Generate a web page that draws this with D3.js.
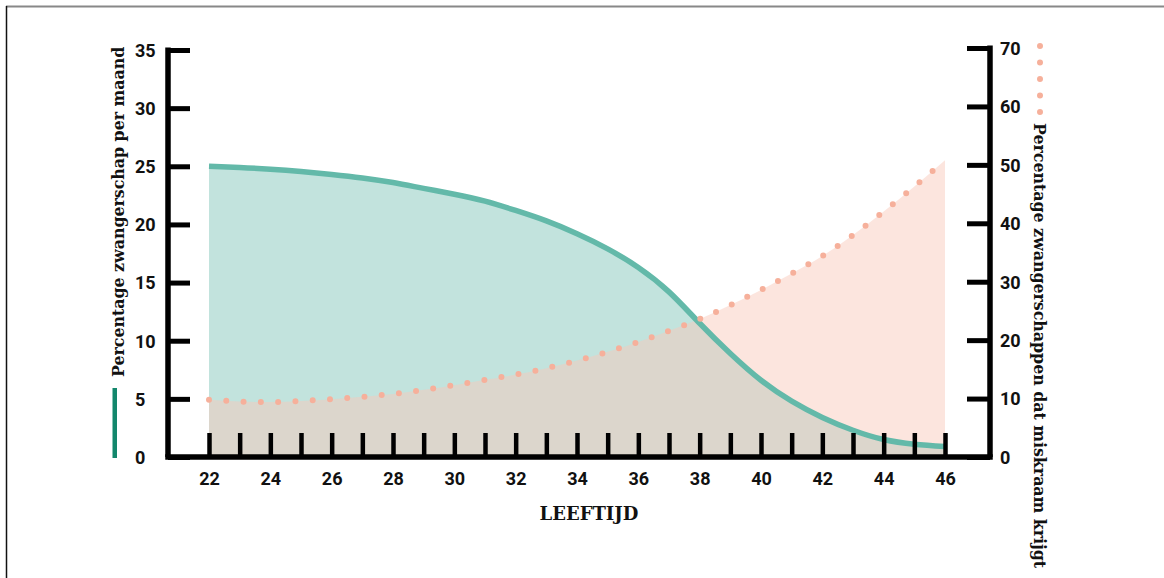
<!DOCTYPE html>
<html>
<head>
<meta charset="utf-8">
<title>Leeftijd en zwangerschap</title>
<style>
  body { margin: 0; background: #fff; }
  svg { display: block; }
  .tick-label { font-family: Roboto, "Liberation Sans", sans-serif; font-weight: 700; font-size: 18px; fill: #111; }
  .title { font-family: "DejaVu Serif", "Liberation Serif", serif; font-weight: 700; font-size: 15.8px; fill: #111; }
</style>
</head>
<body>
<svg id="chart" width="1164" height="578"></svg>
<script src="https://d3js.org/d3.v7.min.js"></script>
<script>
// ages on the x axis
var ages = [22, 23, 24, 25, 26, 27, 28, 29, 30, 31, 32, 33, 34, 35, 36, 37, 38, 39, 40, 41, 42, 43, 44, 45, 46];
// chance of pregnancy per month (left axis, %)
var pregnancy = [25.0, 24.9, 24.75, 24.55, 24.3, 24.0, 23.6, 23.1, 22.6, 22.0, 21.2, 20.3, 19.2, 17.9, 16.3, 14.2, 11.5, 8.9, 6.6, 4.8, 3.4, 2.3, 1.5, 1.1, 0.9];
// share of pregnancies ending in miscarriage (right axis, %)
var miscarriage = [9.8, 9.5, 9.4, 9.6, 9.9, 10.3, 10.8, 11.5, 12.3, 13.2, 14.1, 15.2, 16.5, 18.0, 19.7, 21.6, 23.6, 26.0, 28.6, 31.4, 34.4, 38.0, 42.0, 46.3, 50.8];
var leftTicks = [0, 5, 10, 15, 20, 25, 30, 35];
var rightTicks = [0, 10, 20, 30, 40, 50, 60, 70];
var xLabels = [22, 24, 26, 28, 30, 32, 34, 36, 38, 40, 42, 44, 46];

var svg = d3.select('#chart');

// frame lines of the original graphic
svg.append('line').attr('x1', 6).attr('x2', 1164).attr('y1', 6.5).attr('y2', 6.5)
    .attr('stroke', '#888').attr('stroke-width', 2);
svg.append('line').attr('x1', 6.5).attr('x2', 6.5).attr('y1', 6).attr('y2', 578)
    .attr('stroke', '#111').attr('stroke-width', 1.5);

var leftX = 168, rightX = 990, baseY = 457;

var x = d3.scaleLinear().domain([22, 46]).range([209, 945]);
var yL = d3.scaleLinear().domain([0, 35]).range([baseY, 50]);
var yR = d3.scaleLinear().domain([0, 70]).range([baseY, 48]);

var green = ages.map(function (a, i) { return [a, pregnancy[i]]; });
var pink = ages.map(function (a, i) { return [a, miscarriage[i]]; });

// areas
svg.append('path').datum(green)
    .attr('fill', '#c2e3dd')
    .attr('d', d3.area().curve(d3.curveNatural)
        .x(function (d) { return x(d[0]); })
        .y0(yL(0))
        .y1(function (d) { return yL(d[1]); }));

svg.append('path').datum(pink)
    .attr('fill', 'rgb(249,200,186)')
    .attr('fill-opacity', 0.475)
    .attr('d', d3.area().curve(d3.curveNatural)
        .x(function (d) { return x(d[0]); })
        .y0(yR(0))
        .y1(function (d) { return yR(d[1]); }));

// lines
svg.append('path').datum(green)
    .attr('fill', 'none')
    .attr('stroke', '#63b9a9')
    .attr('stroke-width', 5.5)
    .attr('d', d3.line().curve(d3.curveNatural)
        .x(function (d) { return x(d[0]); })
        .y(function (d) { return yL(d[1]); }));

svg.append('path').datum(pink)
    .attr('fill', 'none')
    .attr('stroke', '#f6b09b')
    .attr('stroke-width', 6)
    .attr('stroke-linecap', 'round')
    .attr('stroke-dasharray', '0,17.3')
    .attr('d', d3.line().curve(d3.curveNatural)
        .x(function (d) { return x(d[0]); })
        .y(function (d) { return yR(d[1]); }));

// left axis
var gL = svg.append('g').attr('transform', 'translate(' + leftX + ',0)')
    .call(d3.axisRight(yL).tickValues(leftTicks).tickSize(22).tickSizeOuter(0));
gL.select('.domain').attr('stroke', '#000').attr('stroke-width', 5.5).attr('d', 'M0,' + (yL(35) - 2.5) + 'V' + baseY);
gL.selectAll('.tick line').attr('stroke', '#000').attr('stroke-width', 5);
gL.selectAll('.tick text').attr('class', 'tick-label').attr('x', -33).attr('text-anchor', 'start').attr('dy', '0.35em');

// right axis
var gR = svg.append('g').attr('transform', 'translate(' + rightX + ',0)')
    .call(d3.axisLeft(yR).tickValues(rightTicks).tickSize(23).tickSizeOuter(0));
gR.select('.domain').attr('stroke', '#000').attr('stroke-width', 5.5).attr('d', 'M0,' + (yR(70) - 2.5) + 'V' + baseY);
gR.selectAll('.tick line').attr('stroke', '#000').attr('stroke-width', 5);
gR.selectAll('.tick text').attr('class', 'tick-label').attr('x', 10).attr('text-anchor', 'start').attr('dy', '0.35em');

// bottom axis: small ticks every year, labels every two years
var gX = svg.append('g').attr('transform', 'translate(0,' + baseY + ')')
    .call(d3.axisTop(x).tickValues(ages).tickSize(24).tickSizeOuter(0).tickFormat(''));
gX.select('.domain').remove();
gX.selectAll('.tick line').attr('stroke', '#000').attr('stroke-width', 4.5);
svg.append('line').attr('x1', leftX - 2.75).attr('x2', rightX + 2.75)
    .attr('y1', baseY).attr('y2', baseY)
    .attr('stroke', '#000').attr('stroke-width', 5.5);

var gXL = svg.append('g').attr('transform', 'translate(0,' + baseY + ')')
    .call(d3.axisBottom(x).tickValues(xLabels).tickSize(0).tickPadding(15));
gXL.select('.domain').remove();
gXL.selectAll('.tick text').attr('class', 'tick-label');

// titles
svg.append('text').attr('class', 'title')
    .attr('x', 589).attr('y', 520).attr('text-anchor', 'middle')
    .style('font-size', '18px')
    .text('LEEFTIJD');

svg.append('text').attr('class', 'title')
    .attr('transform', 'translate(124,377) rotate(-90)')
    .text('Percentage zwangerschap per maand');
svg.append('rect').attr('x', 112.5).attr('y', 388).attr('width', 4.5).attr('height', 70).attr('fill', '#13876c');

svg.append('text').attr('class', 'title')
    .attr('transform', 'translate(1034,123) rotate(90)')
    .text('Percentage zwangerschappen dat miskraam krijgt');
svg.append('line').attr('x1', 1040).attr('x2', 1040).attr('y1', 46).attr('y2', 113)
    .attr('stroke', '#f6b09b').attr('stroke-width', 6)
    .attr('stroke-linecap', 'round').attr('stroke-dasharray', '0,16.5');
</script>
</body>
</html>
